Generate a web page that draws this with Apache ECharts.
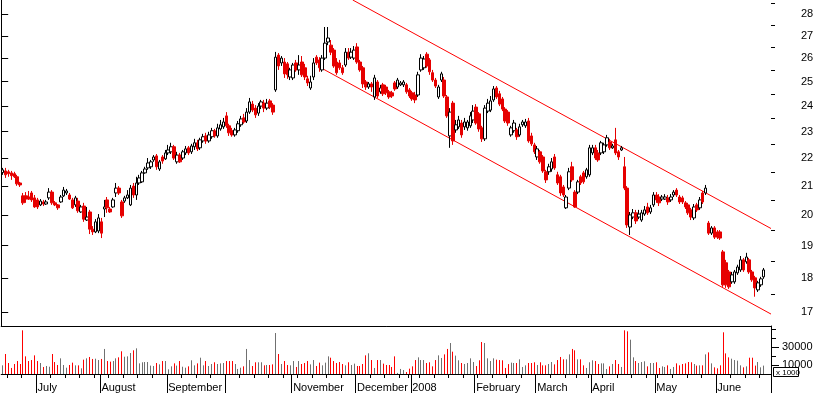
<!DOCTYPE html>
<html><head><meta charset="utf-8">
<script src="https://cdn.jsdelivr.net/npm/echarts@6/dist/echarts.min.js"></script>
<style>html,body{margin:0;padding:0;background:#fff}#c{width:817px;height:395px}</style>
</head><body><div id="c"></div>
<script>
// ---- calendar (trading days) ----
const firstDay = '2007-06-14';
const lastDay = '2008-06-24';
const holidays = ['2007-12-25','2007-12-26','2008-01-01','2008-03-21','2008-03-24','2008-05-01'];
const monthLabels = ['2008','February','March','April','May','June','July','August','September','','November','December'];

// ---- prices ----
const openP = [
21.47,21.53,21.50,21.46,21.43,21.32,21.10,20.65,20.65,20.61,
20.75,20.58,20.51,20.34,20.44,20.37,20.58,20.78,20.41,20.34,
20.44,20.65,20.75,20.68,20.51,20.34,20.47,20.10,20.30,19.83,
20.10,19.53,19.44,19.47,19.77,20.20,20.51,20.20,20.27,20.75,
20.92,20.44,20.47,20.58,20.34,20.99,20.68,21.10,21.14,21.46,
21.64,21.68,21.93,22.08,21.60,22.04,21.97,22.19,22.23,22.42,
21.86,22.11,22.00,22.19,22.38,22.23,22.42,22.57,22.38,22.64,
22.83,22.64,22.80,23.03,22.83,23.10,23.18,23.61,23.22,23.03,
22.87,23.03,23.26,23.53,23.41,23.76,24.08,23.92,23.72,24.00,
24.12,23.92,24.21,24.04,24.66,26.14,25.80,25.84,25.76,25.20,
25.16,25.80,25.50,25.84,25.59,25.12,24.74,25.20,26.05,25.93,
25.50,26.01,26.72,26.58,26.36,25.84,25.80,25.59,25.71,26.27,
26.05,26.01,26.50,25.84,25.59,24.99,24.78,24.91,24.37,24.99,
24.58,24.87,24.78,24.58,24.54,24.95,24.78,24.87,24.87,24.87,
24.66,24.54,24.45,24.45,25.50,25.59,26.18,25.93,25.38,25.07,
24.37,25.07,25.07,24.37,22.83,24.12,23.06,23.18,23.33,23.18,
23.14,23.22,23.45,23.96,23.69,23.14,22.72,23.80,23.84,24.25,
24.74,24.50,24.29,23.88,23.76,22.87,23.03,23.06,22.87,23.26,
23.22,23.41,22.83,22.49,22.04,22.23,22.04,21.50,21.50,21.60,
22.04,21.39,21.32,20.96,20.24,20.92,21.68,20.78,20.78,21.32,
21.46,21.32,21.39,22.19,22.38,22.19,22.19,22.23,22.49,22.60,
22.38,22.68,22.23,22.30,21.68,20.92,19.60,19.93,20.07,19.93,
19.83,20.03,20.27,20.10,20.34,20.68,20.61,20.54,20.54,20.58,
20.51,20.68,20.85,20.61,20.58,20.41,20.34,20.17,19.90,20.34,
20.24,20.75,20.75,19.73,19.40,19.57,19.44,19.44,18.80,18.46,
18.18,17.88,17.88,18.15,18.24,18.55,18.49,18.55,18.18,18.00,
17.64,17.79,18.03];
const highP = [
21.64,21.64,21.57,21.53,21.50,21.39,21.14,20.75,20.78,20.82,
20.82,20.68,20.58,20.54,20.51,20.51,20.92,20.85,20.47,20.37,
20.68,20.96,20.89,20.75,20.58,20.65,20.58,20.34,20.41,20.27,
20.17,19.63,19.86,20.03,19.90,20.51,20.61,20.27,20.58,21.10,
20.99,20.51,20.65,20.85,21.03,21.10,21.32,21.39,21.53,21.68,
22.00,21.93,22.11,22.15,21.93,22.11,22.30,22.49,22.57,22.49,
22.23,22.19,22.30,22.45,22.45,22.53,22.72,22.68,22.76,22.91,
22.95,22.99,23.14,23.10,23.30,23.45,23.53,23.76,23.30,23.14,
23.14,23.41,23.61,23.69,23.92,24.33,24.21,24.04,24.12,24.25,
24.25,24.29,24.29,24.12,26.28,26.23,26.10,26.01,25.84,25.59,
25.80,25.93,26.14,26.10,25.76,25.25,25.25,26.01,26.14,26.05,
26.14,27.40,27.40,26.81,26.45,26.01,25.93,25.71,26.45,26.45,
26.45,26.54,26.67,25.93,25.67,25.07,24.99,24.99,25.29,25.07,
24.87,24.95,24.87,24.66,24.62,25.03,25.16,25.03,25.07,24.95,
24.74,24.62,24.58,25.42,26.18,26.10,26.27,26.01,25.50,25.16,
24.87,25.42,25.20,24.45,23.92,24.21,23.45,23.61,23.45,23.53,
23.45,23.76,24.04,24.08,23.76,23.22,24.04,24.29,24.41,24.82,
24.82,24.62,24.37,23.96,23.84,23.22,23.45,23.14,23.30,23.45,
23.49,23.53,22.95,22.57,22.45,22.30,22.11,21.57,21.79,22.00,
22.15,21.50,21.39,21.03,20.68,21.64,21.86,20.85,21.21,21.39,
21.53,21.64,22.49,22.49,22.49,22.30,22.64,22.57,22.87,22.72,
22.53,23.14,22.30,22.45,22.04,20.99,20.10,20.20,20.17,20.17,
20.17,20.30,20.41,20.34,20.78,20.78,20.71,20.68,20.71,20.68,
20.71,20.85,20.92,20.68,20.65,20.47,20.41,20.24,20.37,20.41,
20.61,20.82,21.03,19.80,19.63,19.63,19.50,19.50,18.86,18.55,
18.24,18.18,18.24,18.40,18.67,18.61,18.77,18.61,18.24,18.06,
17.91,18.03,18.30];
const lowP = [
21.39,21.28,21.32,21.21,21.28,21.00,20.96,20.34,20.41,20.51,
20.44,20.24,20.20,20.30,20.30,20.34,20.51,20.34,20.30,20.17,
20.41,20.61,20.68,20.51,20.20,20.27,20.07,20.07,19.77,19.80,
19.37,19.34,19.40,19.40,19.24,19.93,20.07,20.07,20.24,20.61,
20.68,19.90,20.41,20.54,20.30,20.58,20.51,21.03,21.10,21.43,
21.57,21.60,21.86,21.57,21.53,21.79,21.93,22.11,22.15,21.93,
21.79,21.82,21.93,22.11,22.11,22.15,22.30,22.26,22.30,22.57,
22.53,22.57,22.72,22.76,22.76,23.03,23.10,23.14,22.83,22.80,
22.80,22.95,23.18,23.30,23.33,23.69,23.76,23.53,23.61,23.88,
23.76,23.84,23.88,23.65,24.58,25.50,25.67,25.16,25.12,25.07,
25.07,25.42,25.29,25.20,25.07,24.82,24.66,25.07,25.71,25.42,
25.42,25.93,26.58,26.14,25.59,25.29,25.50,25.29,25.63,25.93,
25.97,25.93,25.76,25.42,24.74,24.66,24.70,24.58,24.25,24.33,
24.50,24.41,24.45,24.29,24.33,24.62,24.70,24.82,24.78,24.50,
24.33,24.21,24.12,24.37,25.42,25.50,25.59,25.29,24.99,24.74,
24.29,24.99,24.33,23.53,22.38,22.49,22.95,23.10,22.76,23.06,
23.03,23.14,23.33,23.26,22.99,22.60,22.64,23.72,23.76,24.17,
24.29,24.00,23.80,23.33,23.22,22.80,22.95,22.68,22.80,23.18,
23.14,22.57,22.45,22.15,21.93,21.79,21.46,21.10,21.39,21.50,
21.57,21.03,20.65,20.61,20.20,20.85,21.14,20.24,20.71,21.03,
21.07,21.25,21.32,22.11,21.93,21.86,22.11,22.15,22.42,22.30,
22.34,22.11,21.93,22.26,20.85,19.57,19.34,19.86,19.70,19.86,
19.77,19.97,20.00,20.03,20.27,20.41,20.30,20.47,20.51,20.34,
20.44,20.61,20.61,20.37,20.37,20.20,20.00,19.83,19.83,20.10,
20.17,20.37,20.68,19.34,19.34,19.21,19.21,19.18,17.73,17.70,
17.67,17.82,17.82,18.09,18.18,18.18,18.43,18.12,17.88,17.44,
17.58,17.73,17.97];
const closeP = [
21.57,21.39,21.43,21.36,21.32,21.07,21.03,20.41,20.54,20.54,
20.51,20.27,20.27,20.47,20.37,20.44,20.78,20.41,20.34,20.24,
20.61,20.85,20.82,20.54,20.24,20.58,20.14,20.27,19.86,19.93,
19.53,19.44,19.77,19.90,19.40,20.27,20.24,20.10,20.51,20.92,
20.75,19.97,20.58,20.68,20.92,20.68,21.10,21.28,21.46,21.60,
21.82,21.86,22.04,21.68,21.86,21.89,22.19,22.30,22.42,22.00,
22.11,21.86,22.23,22.34,22.19,22.45,22.57,22.34,22.68,22.80,
22.64,22.87,23.03,22.83,23.14,23.26,23.37,23.22,22.95,22.87,
23.06,23.30,23.49,23.37,23.76,24.17,23.84,23.65,24.00,24.17,
23.92,24.12,23.96,23.76,26.05,25.67,26.01,25.33,25.29,25.50,
25.71,25.50,25.71,25.29,25.20,24.95,24.99,25.80,25.80,25.59,
26.01,26.67,26.90,26.27,25.67,25.38,25.59,25.38,26.27,26.01,
26.27,26.36,25.84,25.50,24.91,24.78,24.91,24.78,25.16,24.41,
24.74,24.50,24.54,24.37,24.41,24.70,25.07,24.95,24.99,24.58,
24.41,24.29,24.25,25.29,26.01,25.97,25.67,25.42,25.07,24.82,
24.78,25.33,24.41,23.61,23.76,22.64,23.26,23.45,22.87,23.37,
23.37,23.61,23.80,23.33,23.10,22.72,23.92,24.12,24.21,24.70,
24.37,24.08,23.88,23.41,23.33,23.14,23.33,22.80,23.18,23.37,
23.37,22.64,22.53,22.23,22.34,21.86,21.53,21.21,21.68,21.86,
21.64,21.10,20.75,20.68,20.61,21.50,21.21,20.27,21.14,21.10,
21.14,21.57,22.38,22.38,22.00,21.93,22.57,22.49,22.76,22.38,
22.45,22.19,22.04,22.38,20.92,19.67,20.00,20.07,19.80,20.03,
20.07,20.17,20.07,20.24,20.68,20.51,20.41,20.61,20.61,20.44,
20.61,20.78,20.68,20.44,20.44,20.27,20.07,19.93,20.27,20.17,
20.51,20.44,20.92,19.40,19.57,19.27,19.27,19.24,17.79,17.79,
17.73,18.09,18.18,18.33,18.55,18.24,18.64,18.18,17.94,17.70,
17.85,17.97,18.24];

// ---- volume (x 1000) ----
const volumes = [
9600,22200,12200,6700,11100,14400,11100,48500,19600,14400,
15500,20700,14400,12200,7800,8900,8100,22200,13300,10000,
17400,10000,7000,10000,12600,9600,9600,6300,15900,17400,
18900,16700,17000,15500,16700,27800,14400,13700,14400,17400,
18500,25200,19200,19600,23300,26300,28500,11800,13000,13300,
13300,9300,8900,12200,10700,14400,14400,5200,8500,11800,
9300,14400,8100,7000,8500,15200,9600,11800,18100,9600,
14400,8900,11100,13000,11100,11800,12200,14400,14400,14400,
11100,5600,7000,8500,27800,15500,8900,13000,13000,13000,
9600,10000,10000,10700,45500,22200,11100,14400,10000,9600,
14400,7800,14400,11100,12200,14400,10700,15500,8900,12600,
9600,12600,19600,18100,14400,12200,13300,11100,9600,13000,
10000,11500,8900,8900,11100,20700,23000,15500,6700,15500,
15500,11500,10000,10000,7800,19600,1200,5600,4400,2200,
5900,8500,15500,18500,15500,15500,12200,13000,8500,15500,
20700,17800,21800,27800,34400,24800,20400,15200,12200,11100,
12200,17400,13300,8900,15200,35500,34400,17400,14400,17400,
15900,15500,15200,6700,11000,12600,12200,12200,16300,7800,
9600,12200,12200,13000,10000,13000,9600,9600,11100,13300,
10700,15500,18900,16300,16300,21800,27800,26300,16300,16300,
9600,6700,13000,15200,14400,11100,11800,11800,5600,8500,
11100,15500,11100,7800,48500,47400,38100,18500,14400,12200,
13300,14100,8500,12200,12200,13000,6700,8500,7800,9600,
5600,7800,11800,9600,11100,11800,13300,13000,11100,9300,
9600,9600,21800,24000,11800,7400,6300,9600,46300,22900,
18500,17000,15500,14800,9600,7400,8500,18100,18100,9300,
13300,7400,9300];

// ---- axes / channel ----
const priceMin = 16.605, priceMax = 28.668;
const priceTicks = [17,18,19,20,21,22,23,24,25,26,27,28];
const priceHalfTicks = [17.5,18.5,19.5,20.5,21.5,22.5,23.5,24.5,25.5,26.5,27.5,28.5];
const volumeMax = 53300;
const volumeTicks = [10000,30000];
const volumeMinorTicks = [20000,40000,50000];
// channel lines: [bar position, price]
const upperChannel = [[121, 28.67], [265, 19.55]];
const lowerChannel = [[110.5, 25.56], [265, 16.94]];

// build categories
const tradingDays = [];
(function () {
  const hol = new Set(holidays);
  const d = new Date(firstDay + 'T00:00:00Z');
  const end = new Date(lastDay + 'T00:00:00Z');
  while (d <= end) {
    const wd = d.getUTCDay();
    const s = d.toISOString().slice(0, 10);
    if (wd !== 0 && wd !== 6 && !hol.has(s)) tradingDays.push(s);
    d.setUTCDate(d.getUTCDate() + 1);
  }
})();
const categories = tradingDays.concat([' ', '  ']);
const N = categories.length;
const isMonthStart = categories.map((c, i) => i > 0 && i < tradingDays.length && c.slice(0, 7) !== categories[i - 1].slice(0, 7));
const dow = s => new Date(s + 'T00:00:00Z').getUTCDay();
const isWeekStart = categories.map((c, i) => i > 0 && i < tradingDays.length && dow(c) <= dow(categories[i - 1]));

const RED = '#e60000';
const FONT = 'Liberation Sans, Arial, sans-serif';

const chart = echarts.init(document.getElementById('c'), null, {renderer: 'canvas'});
const gridBase = {left: 1.2, right: 46, containLabel: false, outerBoundsMode: 'none'};
chart.setOption({
  animation: false,
  backgroundColor: '#fff',
  grid: [
    Object.assign({top: 0, height: 326}, gridBase),
    Object.assign({top: 326, height: 48}, gridBase)
  ],
  xAxis: [
    {type: 'category', gridIndex: 0, data: categories, boundaryGap: true,
     axisLine: {show: true, lineStyle: {color: '#000', width: 1}}, axisTick: {show: false},
     axisLabel: {show: false}, splitLine: {show: false}},
    {type: 'value', gridIndex: 0, min: 0, max: N, show: false, splitLine: {show: false}},
    {type: 'category', gridIndex: 1, data: categories, boundaryGap: true, position: 'bottom', offset: 1,
     axisLine: {show: true, lineStyle: {color: '#000', width: 1}},
     axisTick: {show: true, length: 4, interval: i => isWeekStart[i], lineStyle: {color: '#000'}},
     axisLabel: {show: false}, splitLine: {show: false}},
    {type: 'category', gridIndex: 1, data: categories, boundaryGap: true, position: 'bottom', offset: 1,
     axisLine: {show: false},
     axisTick: {show: true, length: 19, interval: i => isMonthStart[i], lineStyle: {color: '#000'}},
     axisLabel: {show: true, interval: i => isMonthStart[i], align: 'left', margin: 7,
       formatter: v => monthLabels[parseInt(v.slice(5, 7), 10) - 1],
       fontSize: 11, fontFamily: FONT, color: '#000'},
     splitLine: {show: false}}
  ],
  yAxis: [
    {type: 'log', logBase: 10, gridIndex: 0, position: 'right', min: priceMin, max: priceMax,
     axisLine: {show: true, lineStyle: {color: '#000', width: 1}},
     axisTick: {show: true, length: 7, customValues: priceTicks, lineStyle: {color: '#000'}},
     axisLabel: {show: true, customValues: priceTicks, formatter: v => String(Math.round(v)),
       margin: 30, align: 'left', fontSize: 11, fontFamily: FONT, color: '#000'},
     splitLine: {show: false}, minorTick: {show: false}},
    {type: 'log', logBase: 10, gridIndex: 0, position: 'right', min: priceMin, max: priceMax,
     axisLine: {show: false},
     axisTick: {show: true, length: 4, customValues: priceHalfTicks, lineStyle: {color: '#000'}},
     axisLabel: {show: false}, splitLine: {show: false}},
    {type: 'value', gridIndex: 1, position: 'right', min: 0, max: volumeMax,
     axisLine: {show: true, lineStyle: {color: '#000', width: 1}},
     axisTick: {show: true, length: 8, customValues: volumeTicks, lineStyle: {color: '#000'}},
     axisLabel: {show: true, customValues: volumeTicks, margin: 11, align: 'left',
       formatter: v => String(Math.round(v)),
       fontSize: 11, fontFamily: FONT, color: '#000'},
     splitLine: {show: false}},
    {type: 'value', gridIndex: 1, position: 'right', min: 0, max: volumeMax,
     axisLine: {show: false},
     axisTick: {show: true, length: 5, customValues: volumeMinorTicks, lineStyle: {color: '#000'}},
     axisLabel: {show: false}, splitLine: {show: false}}
  ],
  series: [
    {type: 'line', xAxisIndex: 1, yAxisIndex: 0, data: upperChannel, symbol: 'none', silent: true,
     lineStyle: {color: '#ff0000', width: 1}, clip: true, z: 1},
    {type: 'line', xAxisIndex: 1, yAxisIndex: 0, data: lowerChannel, symbol: 'none', silent: true,
     lineStyle: {color: '#ff0000', width: 1}, clip: true, z: 1},
    {type: 'candlestick', xAxisIndex: 0, yAxisIndex: 0, barWidth: 3,
     data: openP.map((o, i) => [o, closeP[i], lowP[i], highP[i]]),
     itemStyle: {color: '#fff', color0: RED, borderColor: '#000', borderColor0: RED, borderWidth: 1},
     z: 3},
    {type: 'custom', xAxisIndex: 2, yAxisIndex: 2,
     data: volumes.map((v, i) => [i, v]),
     renderItem: function (params, api) {
       const i = api.value(0), v = api.value(1);
       const top = api.coord([i, v]);
       const base = api.coord([i, 0]);
       const x = Math.floor(top[0]) + 0.5;
       return {type: 'line', shape: {x1: x, y1: base[1], x2: x, y2: top[1]},
         style: {stroke: closeP[i] < openP[i] ? '#ff0000' : '#707070', lineWidth: 1}};
     }}
  ],
  graphic: [{
    type: 'group', z: 100,
    children: [
      {type: 'rect', shape: {x: 773.5, y: 367.5, width: 25, height: 9},
       style: {fill: '#fff', stroke: '#000', lineWidth: 1}},
      {type: 'text', x: 776, y: 368.5, style: {text: 'x 1000', font: '8px ' + FONT, fill: '#000'}}
    ]
  }]
});
</script>
</body></html>
